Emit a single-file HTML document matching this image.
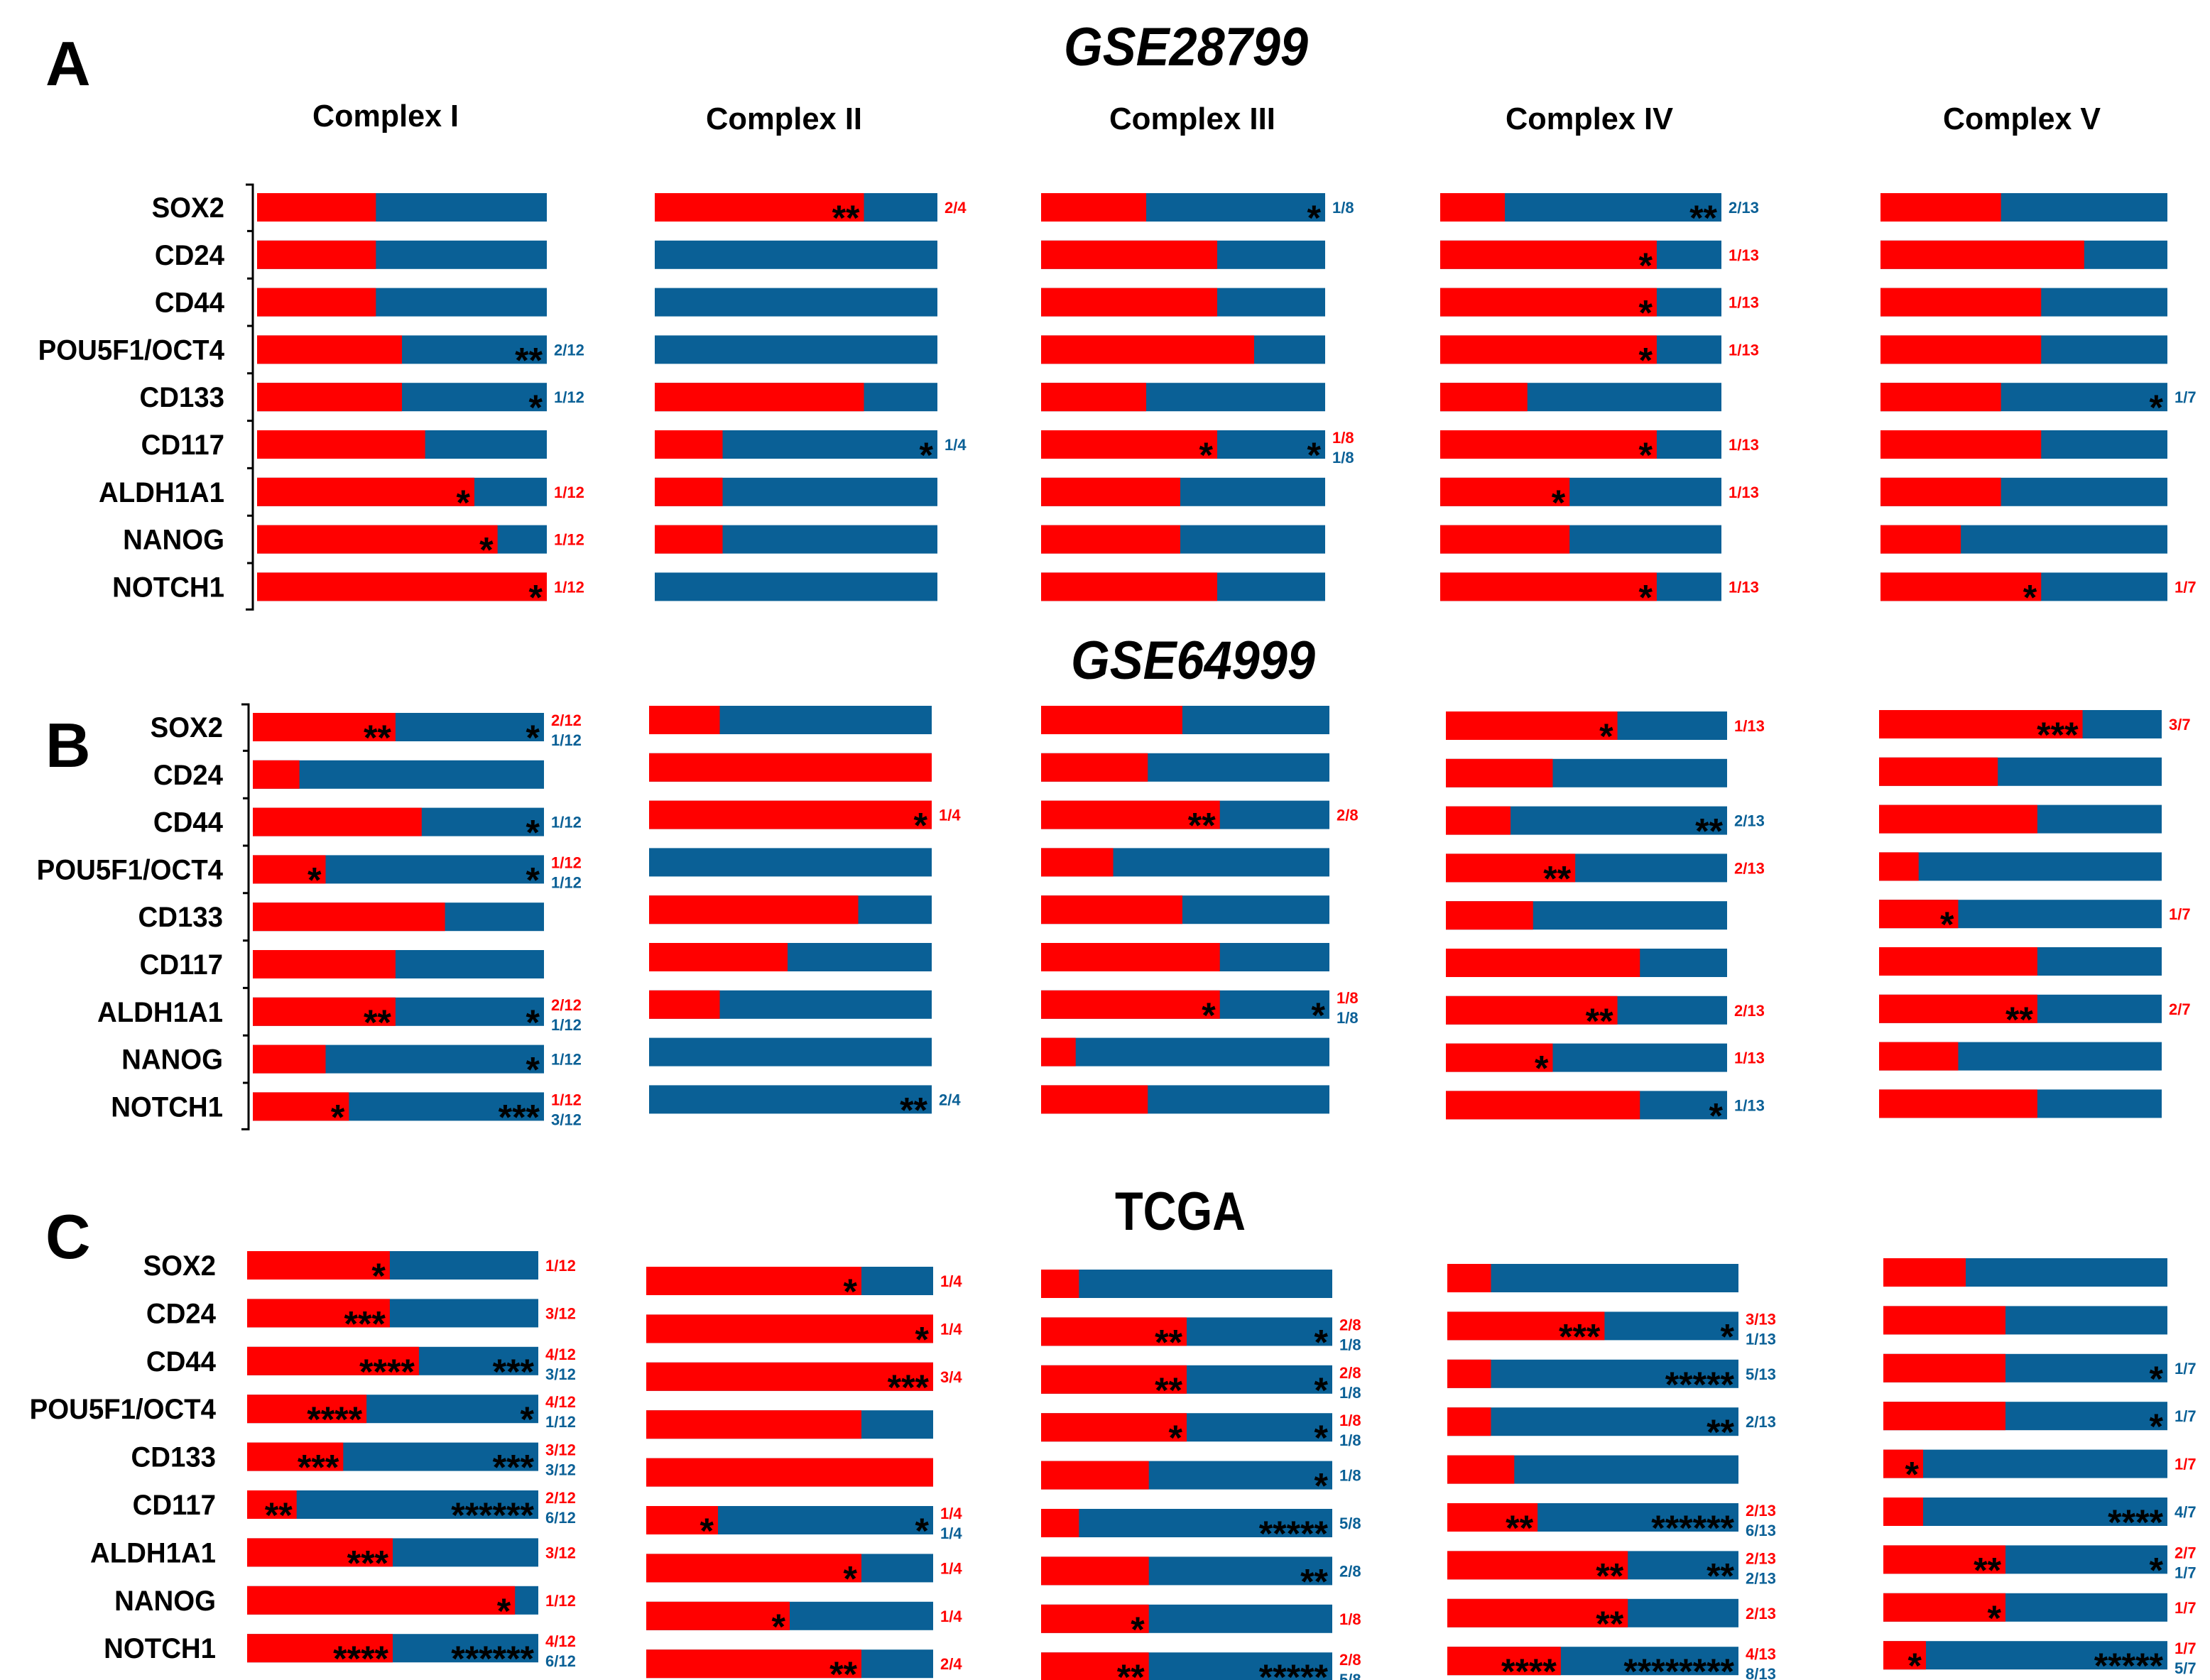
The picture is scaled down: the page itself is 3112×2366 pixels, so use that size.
<!DOCTYPE html>
<html><head><meta charset="utf-8">
<style>
html,body{margin:0;padding:0;background:#fff;}
svg{display:block;}
text{font-family:"Liberation Sans",sans-serif;}
</style></head>
<body>
<svg id="chart" width="3112" height="2366" viewBox="0 0 1556 1183" xmlns="http://www.w3.org/2000/svg">
<g id="static">
<text x="32" y="60" font-size="44" font-weight="bold">A</text>
<text x="32" y="540" font-size="44" font-weight="bold">B</text>
<text x="32" y="886" font-size="44" font-weight="bold">C</text>
<text x="749" y="46" font-size="38" font-weight="bold" font-style="italic" textLength="172" lengthAdjust="spacingAndGlyphs">GSE28799</text>
<text x="754" y="478" font-size="38" font-weight="bold" font-style="italic" textLength="172" lengthAdjust="spacingAndGlyphs">GSE64999</text>
<text x="785" y="866" font-size="38" font-weight="bold" textLength="92" lengthAdjust="spacingAndGlyphs">TCGA</text>
<text x="220" y="89" font-size="22" font-weight="bold" textLength="103" lengthAdjust="spacingAndGlyphs">Complex I</text>
<text x="497" y="91" font-size="22" font-weight="bold" textLength="110" lengthAdjust="spacingAndGlyphs">Complex II</text>
<text x="781" y="91" font-size="22" font-weight="bold" textLength="117" lengthAdjust="spacingAndGlyphs">Complex III</text>
<text x="1060" y="91" font-size="22" font-weight="bold" textLength="118" lengthAdjust="spacingAndGlyphs">Complex IV</text>
<text x="1368" y="91" font-size="22" font-weight="bold" textLength="111" lengthAdjust="spacingAndGlyphs">Complex V</text>
</g>
<g id="marks"></g>
</svg>
<script>
const genes = ["SOX2","CD24","CD44","POU5F1/OCT4","CD133","CD117","ALDH1A1","NANOG","NOTCH1"];
const panelNames = ["a","b","c"];
const complexNames = ["i","ii","iii","iv","v"];

// red fraction of each bar [complex][gene]
const fracA = [
[.41,.41,.41,.5,.5,.58,.75,.83,1],
[.74,0,0,0,.74,.24,.24,.24,0],
[.37,.62,.62,.75,.37,.62,.49,.49,.62],
[.23,.77,.77,.77,.31,.77,.46,.46,.77],
[.42,.71,.56,.56,.42,.56,.42,.28,.56]];
const fracB = [
[.49,.16,.58,.25,.66,.49,.49,.25,.33],
[.25,1,1,0,.74,.49,.25,0,0],
[.49,.37,.62,.25,.49,.62,.62,.12,.37],
[.61,.38,.23,.46,.31,.69,.61,.38,.69],
[.72,.42,.56,.14,.28,.56,.56,.28,.56]];
const fracC = [
[.49,.49,.59,.41,.33,.17,.5,.92,.5],
[.75,1,1,.75,1,.25,.75,.5,.75],
[.13,.5,.5,.5,.37,.13,.37,.37,.37],
[.15,.54,.15,.15,.23,.31,.62,.62,.39],
[.29,.43,.43,.43,.14,.14,.43,.43,.15]];

// annotations "redStars;blueStars;redLabel;blueLabel"
const annA = [
["","","",";**;;2/12",";*;;1/12","","*;;1/12;","*;;1/12;","*;;1/12;"],
["**;;2/4;","","","","",";*;;1/4","","",""],
[";*;;1/8","","","","","*;*;1/8;1/8","","",""],
[";**;;2/13","*;;1/13;","*;;1/13;","*;;1/13;","","*;;1/13;","*;;1/13;","","*;;1/13;"],
["","","","",";*;;1/7","","","","*;;1/7;"]];
const annB = [
["**;*;2/12;1/12","",";*;;1/12","*;*;1/12;1/12","","","**;*;2/12;1/12",";*;;1/12","*;***;1/12;3/12"],
["","","*;;1/4;","","","","","",";**;;2/4"],
["","","**;;2/8;","","","","*;*;1/8;1/8","",""],
["*;;1/13;","",";**;;2/13","**;;2/13;","","","**;;2/13;","*;;1/13;",";*;;1/13"],
["***;;3/7;","","","","*;;1/7;","","**;;2/7;","",""]];
const annC = [
["*;;1/12;","***;;3/12;","****;***;4/12;3/12","****;*;4/12;1/12","***;***;3/12;3/12","**;******;2/12;6/12","***;;3/12;","*;;1/12;","****;******;4/12;6/12"],
["*;;1/4;","*;;1/4;","***;;3/4;","","","*;*;1/4;1/4","*;;1/4;","*;;1/4;","**;;2/4;"],
["","**;*;2/8;1/8","**;*;2/8;1/8","*;*;1/8;1/8",";*;;1/8",";*****;;5/8",";**;;2/8","*;;1/8;","**;*****;2/8;5/8"],
["","***;*;3/13;1/13",";*****;;5/13",";**;;2/13","","**;******;2/13;6/13","**;**;2/13;2/13","**;;2/13;","****;********;4/13;8/13"],
["","",";*;;1/7",";*;;1/7","*;;1/7;",";****;;4/7","**;*;2/7;1/7","*;;1/7;","*;*****;1/7;5/7"]];

const fracs = [fracA, fracB, fracC];
const anns = [annA, annB, annC];

// layout
const xsP = [
[[181,385],[461,660],[733,933],[1014,1212],[1324,1526]],
[[178,383],[457,656],[733,936],[1018,1216],[1323,1522]],
[[174,379],[455,657],[733,938],[1019,1224],[1326,1526]]];
const y0P = [[146,146,146,146,146],[512,507,507,511,510],[891,902,904,900,896]];
const stepP = [33.4,33.4,33.7];
const geneX = [158,157,152];
const RED = "#ff0000", BLUE = "#0a6096", BH = 20;
const NS = "http://www.w3.org/2000/svg";
const g = document.getElementById("marks");
function mk(tag, attrs, parent){ const e=document.createElementNS(NS,tag); for(const k in attrs) e.setAttribute(k,attrs[k]); (parent||g).appendChild(e); return e; }
function xScale(p,c,f){ const r=xsP[p][c]; return r[0]+(r[1]-r[0])*f; }
function yRow(p,c,i){ return y0P[p][c]+stepP[p]*i; }

for(let p=0;p<3;p++){
  genes.forEach((gn,i)=>{
    const t=mk("text",{x:geneX[p],y:yRow(p,0,i)+7,"font-size":20,"font-weight":"bold","text-anchor":"end",transform:`translate(${geneX[p]*0.04},0) scale(0.96,1)`});
    t.textContent=gn;
    
    
  });
  if(p<2){
    const bx=xsP[p][0][0]-3, top=yRow(p,0,0)-16, bot=yRow(p,0,8)+16;
    const ax=mk("path",{d:`M${bx-5},${top}H${bx}V${bot}H${bx-5}`+genes.slice(1).map((_,i)=>{const yy=(yRow(p,0,i)+yRow(p,0,i+1))/2;return `M${bx-4},${yy}H${bx}`;}).join(""),fill:"none",stroke:"#000","stroke-width":1.5});
    
    
  }
  for(let c=0;c<5;c++){
    for(let i=0;i<9;i++){
      const f=fracs[p][c][i], yc=yRow(p,c,i);
      const x0=xScale(p,c,0), xr=xScale(p,c,f), x1=xScale(p,c,1);
      const id=panelNames[p]+'-complex-'+complexNames[c]+'-'+genes[i].toLowerCase().replace('/','-');
      const bb=mk("rect",{x:x0,y:yc-BH/2,width:x1-x0,height:BH,fill:BLUE});
      
      
      if(f>0){
        const rb=mk("rect",{x:x0,y:yc-BH/2,width:xr-x0,height:BH,fill:RED});
        
        
      }
      const a=anns[p][c][i];
      if(!a) continue;
      const [rs,bs,rl,bl]=a.split(";");
      if(rs){
        const t=mk("text",{x:xr-3,y:yc+16,"font-size":25,"text-anchor":"end","font-weight":"bold"});
        t.textContent=rs;
        
        
      }
      if(bs){
        const t=mk("text",{x:x1-3,y:yc+16,"font-size":25,"text-anchor":"end","font-weight":"bold"});
        t.textContent=bs;
        
        
      }
      const both = rl && bl;
      if(rl){
        const t=mk("text",{x:x1+5,y:both?yc-1:yc+4,"font-size":11,"font-weight":"bold",fill:RED});
        t.textContent=rl;
        
        
      }
      if(bl){
        const t=mk("text",{x:x1+5,y:both?yc+13:yc+4,"font-size":11,"font-weight":"bold",fill:BLUE});
        t.textContent=bl;
        
        
      }
    }
  }
}
</script>
</body></html>
